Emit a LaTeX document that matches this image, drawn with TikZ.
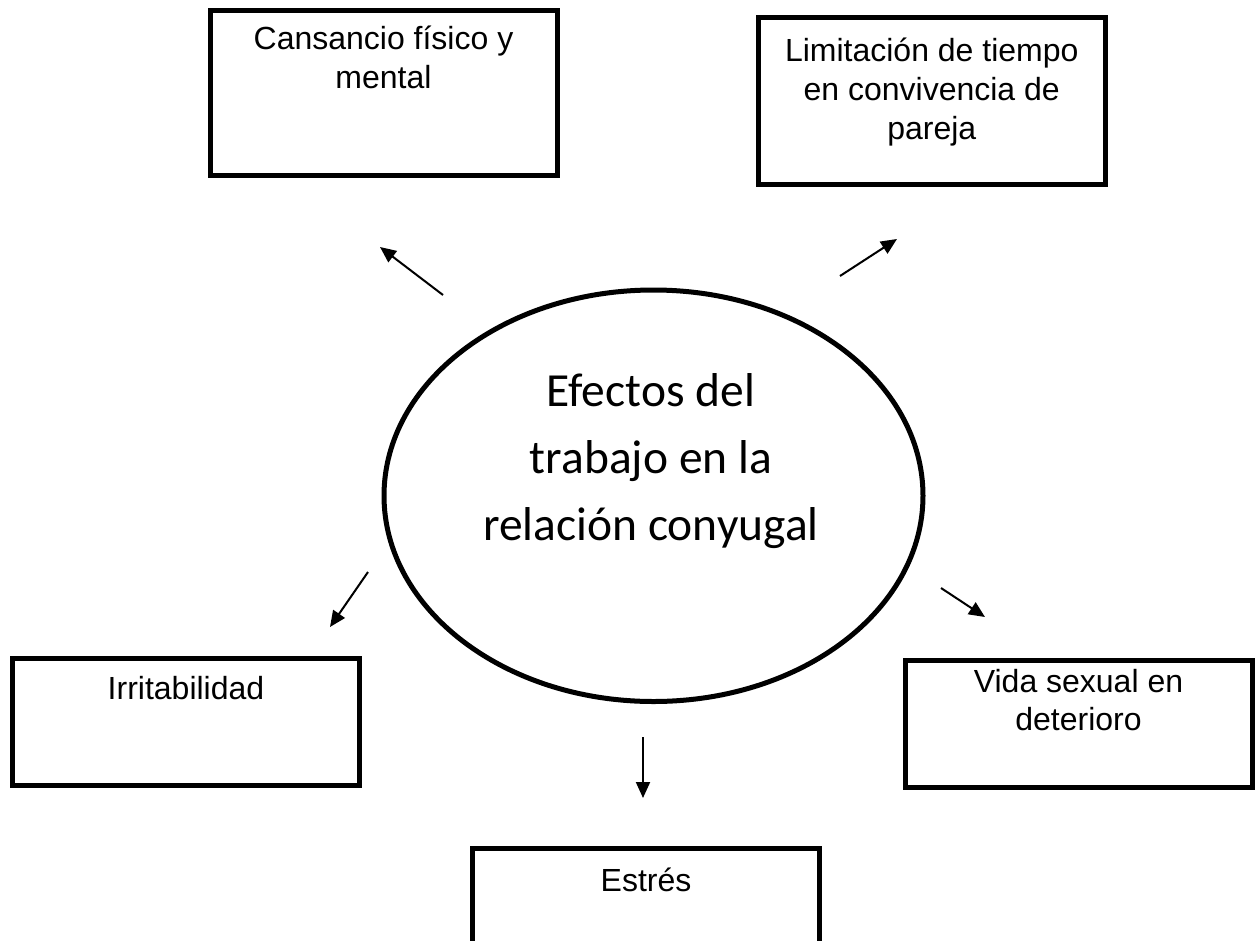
\documentclass[tikz,border=0pt]{standalone}
\usepackage{fontspec}
\setmainfont{Liberation Sans}
\newfontfamily\carlitofont{Carlito}
\usetikzlibrary{arrows.meta,shapes.geometric}
\newcommand\stacklines[2]{\vtop{\baselineskip=#1\relax\halign{\hfil##\hfil\cr#2\crcr}}}
\begin{document}
\begin{tikzpicture}[x=1pt,y=-1pt,
  boxnode/.style={draw=black,line width=5pt,rectangle,inner sep=0pt,minimum width=347pt},
  boxtext/.style={anchor=base,inner sep=0pt,font=\fontsize{32}{39}\selectfont},
  centertext/.style={anchor=base,inner sep=0pt,font=\carlitofont\fontsize{47.5}{67}\selectfont},
  arrowline/.style={line width=2pt,-{Triangle[length=16pt,width=14pt]}}]
\path[use as bounding box] (0,0) rectangle (1256,940);
\clip (0,0) rectangle (1256,940);
\fill[white] (0,0) rectangle (1256,940);

% central ellipse
\node[draw=black,line width=5pt,ellipse,inner sep=0pt,minimum width=539pt,minimum height=411.5pt] (center) at (653.5,495.75) {};
\node[centertext] (centerT) at (651,406) {\stacklines{67pt}{Efectos del\cr trabajo en la\cr relación conyugal}};

% boxes
\node[boxnode,minimum height=165pt] (cans) at (383.5,93) {};
\node[boxtext] (cansT) at (383.5,49) {\stacklines{39pt}{Cansancio físico y\cr mental}};

\node[boxnode,minimum height=167pt] (lim) at (931.75,101) {};
\node[boxtext] (limT) at (931.75,61) {\stacklines{39pt}{Limitación de tiempo\cr en convivencia de\cr pareja}};

\node[boxnode,minimum height=127pt] (irr) at (186,722) {};
\node[boxtext] (irrT) at (186,699) {Irritabilidad};

\node[boxnode,minimum height=127.5pt] (vida) at (1078.5,723.75) {};
\node[boxtext] (vidaT) at (1078.5,692) {\stacklines{38pt}{Vida sexual en\cr deterioro}};

\node[boxnode,minimum height=127pt] (estres) at (646,912) {};
\node[boxtext] (estresT) at (646,891) {Estrés};

% arrow end points
\coordinate (a1s) at (443,295); \coordinate (a1e) at (380,247);
\coordinate (a2s) at (840,276); \coordinate (a2e) at (897,239);
\coordinate (a3s) at (368,572); \coordinate (a3e) at (330,627);
\coordinate (a4s) at (941,588); \coordinate (a4e) at (985,617);
\coordinate (a5s) at (643,737); \coordinate (a5e) at (643,798);

\draw[arrowline] (a1s) -- (a1e);
\draw[arrowline] (a2s) -- (a2e);
\draw[arrowline] (a3s) -- (a3e);
\draw[arrowline] (a4s) -- (a4e);
\draw[arrowline] (a5s) -- (a5e);
\end{tikzpicture}
\end{document}
